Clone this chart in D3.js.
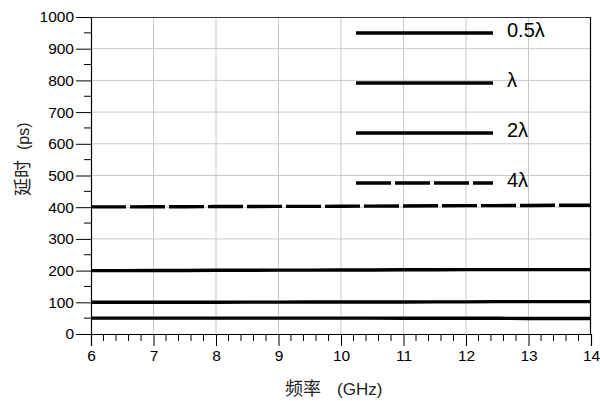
<!DOCTYPE html>
<html><head><meta charset="utf-8">
<script src="https://cdn.jsdelivr.net/npm/d3@7"></script>
<style>body{margin:0;background:#fff}svg{display:block}</style>
</head><body>
<svg id="chart" width="600" height="401"></svg>
<script>
const freq = [6,6.5,7,7.5,8,8.5,9,9.5,10,10.5,11,11.5,12,12.5,13,13.5,14];
const delayHalf = [50,50,50,50,50,50,50,50,50,50,49.5,49.5,49.5,49.5,49,49,49];
const delayOne  = [100,100,100,100,100,100.5,100.5,101,101,101,101,101.5,101.5,102,102,102,102];
const delayTwo  = [200,200,200.5,200.5,201,201,201.5,201.5,202,202,202.5,202.5,203,203,203,203,203];
const delayFour = [401,401,401.5,401.5,402,402,402.5,402.5,403,403.5,404,404.5,405,405,405.5,406,406];
const seriesNames = ["0.5λ","λ","2λ","4λ"];
const xTicks = [6,7,8,9,10,11,12,13,14];
const yTicks = [0,100,200,300,400,500,600,700,800,900,1000];

const svg = d3.select("#chart");
const L=91,R=591,T=17,B=334;
const x = d3.scaleLinear().domain([6,14]).range([L,R]);
const y = d3.scaleLinear().domain([0,1000]).range([B,T]);
const font = "'Liberation Sans', Arial, sans-serif";
const cjk = "'Noto Sans CJK SC', sans-serif";

// grid
svg.append("g").selectAll("line").data(xTicks.slice(1,-1)).join("line")
  .attr("x1",d=>x(d)).attr("x2",d=>x(d)).attr("y1",T).attr("y2",B)
  .attr("stroke","#c8c8c8").attr("stroke-width",1);
svg.append("g").selectAll("line").data(yTicks.slice(1,-1)).join("line")
  .attr("x1",L).attr("x2",R).attr("y1",d=>y(d)).attr("y2",d=>y(d))
  .attr("stroke","#c8c8c8").attr("stroke-width",1);

// frame top/right
svg.append("line").attr("x1",L).attr("x2",R).attr("y1",T+0.5).attr("y2",T+0.5).attr("stroke","#333").attr("stroke-width",1);
svg.append("line").attr("x1",R-0.5).attr("x2",R-0.5).attr("y1",T).attr("y2",B).attr("stroke","#000").attr("stroke-width",1.2);

// axes
const xAxis = d3.axisBottom(x).tickValues(xTicks).tickSize(12).tickPadding(4).tickFormat(d3.format("d"));
const gx = svg.append("g").attr("transform",`translate(0,${B})`).call(xAxis);
const xMinor = d3.range(6,14.001,0.2).filter(v=>Math.abs(v-Math.round(v))>0.01);
gx.append("g").selectAll("line").data(xMinor).join("line")
  .attr("x1",d=>x(d)).attr("x2",d=>x(d)).attr("y1",0).attr("y2",7).attr("stroke","#000");
const yAxis = d3.axisLeft(y).tickValues(yTicks).tickSize(15).tickPadding(2).tickFormat(d3.format("d"));
const gy = svg.append("g").attr("transform",`translate(${L},0)`).call(yAxis);
const yMinor = d3.range(50,1000,100);
gy.append("g").selectAll("line").data(yMinor).join("line")
  .attr("x1",-7).attr("x2",0).attr("y1",d=>y(d)).attr("y2",d=>y(d)).attr("stroke","#000");
[gx,gy].forEach(g=>{
  g.select(".domain").attr("stroke","#000").attr("stroke-width",1.2);
  g.selectAll(".tick line").attr("stroke","#000");
  g.selectAll("text").attr("font-family",font).attr("font-size",15.5).attr("fill","#000");
});

// data lines
const data = [delayHalf,delayOne,delayTwo,delayFour];
const dashes = [null,null,null,"35,4"];
const line = d3.line().x((d,i)=>x(freq[i])).y(d=>y(d));
data.forEach((s,k)=>{
  svg.append("path").datum(s).attr("d",line).attr("fill","none")
    .attr("stroke","#000").attr("stroke-width",3.4)
    .attr("stroke-dasharray",dashes[k]);
});

// legend
const legY = [33,83,133,183];
seriesNames.forEach((n,k)=>{
  svg.append("line").attr("x1",356).attr("x2",493).attr("y1",legY[k]).attr("y2",legY[k])
    .attr("stroke","#000").attr("stroke-width",3.4).attr("stroke-dasharray",dashes[k]);
  svg.append("text").attr("x",507).attr("y",legY[k]+4).text(n)
    .attr("font-family",font).attr("font-size",20).attr("fill","#000");
});

// axis titles
svg.append("text").attr("x",285).attr("y",395)
  .attr("font-family",cjk).attr("font-size",18).attr("fill","#222").text("频率");
svg.append("text").attr("x",337).attr("y",395)
  .attr("font-family",font).attr("font-size",17).attr("fill","#222").text("(GHz)");
svg.append("text").attr("transform","translate(29,196) rotate(-90)")
  .attr("font-family",cjk).attr("font-size",18).attr("fill","#222").text("延时");
svg.append("text").attr("transform","translate(29,150) rotate(-90)")
  .attr("font-family",font).attr("font-size",16).attr("fill","#222").text("(ps)");
</script>
</body></html>
